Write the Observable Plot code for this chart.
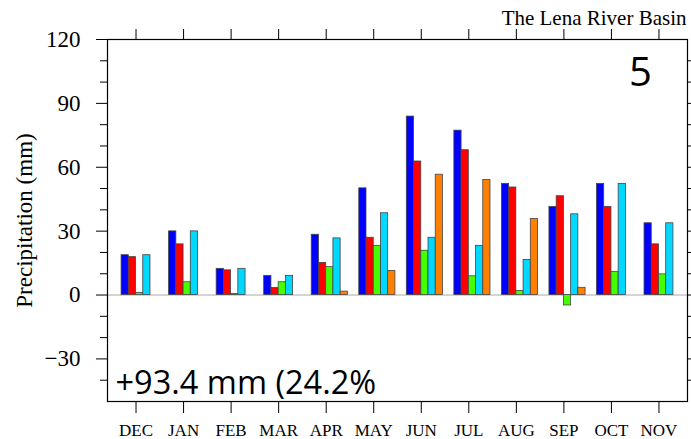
<!DOCTYPE html>
<html>
<head>
<meta charset="utf-8">
<script src="https://cdn.jsdelivr.net/npm/d3@7"></script>
<script src="https://cdn.jsdelivr.net/npm/@observablehq/plot@0.6"></script>
<style>
  html, body { margin: 0; padding: 0; background: #fff; }
</style>
</head>
<body>
<div id="chart"></div>
<script>
const months = ["DEC","JAN","FEB","MAR","APR","MAY","JUN","JUL","AUG","SEP","OCT","NOV"];
const seriesNames = ["s1","s2","s3","s4","s5"];
const seriesColors = ["#0000ff","#ff0000","#44ff00","#00d8ff","#ff8000"];
const blueVals   = [18.7, 29.9, 12.3, 9.0, 28.3, 50.1, 83.8, 77.2, 52.2, 41.4, 52.2, 33.7];
const redVals    = [17.8, 23.8, 11.6, 3.3, 15.1, 26.9, 62.7, 68.0, 50.5, 46.4, 41.4, 23.8];
const greenVals  = [0.9, 6.0, 0.5, 6.0, 13.1, 23.1, 20.8, 8.8, 1.9, -4.9, 10.9, 9.7];
const cyanVals   = [18.7, 29.9, 12.3, 9.0, 26.6, 38.4, 26.9, 23.1, 16.5, 37.9, 52.2, 33.7];
const orangeVals = [null, null, null, null, 1.6, 11.3, 56.5, 54.0, 35.7, 3.4, null, null];
const yMajorTicks = [-30, 0, 30, 60, 90, 120];
const yMinorTicks = [-40, -20, -10, 10, 20, 40, 50, 70, 80, 100, 110];
const yAllTicks = [-40, -30, -20, -10, 0, 10, 20, 30, 40, 50, 60, 70, 80, 90, 100, 110];
const titleText = "The Lena River Basin";
const panelText = "5";
const changeText = "+93.4 mm (24.2%";

const allSeries = [blueVals, redVals, greenVals, cyanVals, orangeVals];
const barW = 0.152;
const rows = [];
allSeries.forEach((vals, k) => {
  vals.forEach((v, i) => {
    if (v === null) return;
    rows.push({month: i, x1: i + (k - 2) * barW, x2: i + (k - 1) * barW, y: v, series: seriesNames[k]});
  });
});

const serif = "'Liberation Serif', 'Times New Roman', serif";
const sans = "'Open Sans', 'Noto Sans', sans-serif";

const chart = Plot.plot({
  width: 691,
  height: 439,
  marginLeft: 107,
  marginRight: 4,
  marginTop: 39,
  marginBottom: 38,
  style: {fontFamily: serif, background: "#fff", color: "#000"},
  x: {domain: [-0.6, 11.6]},
  y: {domain: [-50, 120]},
  color: {domain: seriesNames, range: seriesColors},
  marks: [
    Plot.ruleY([0], {stroke: "#aaa", strokeWidth: 1}),
    Plot.rectY(rows, {x1: "x1", x2: "x2", y1: 0, y2: "y", fill: "series", stroke: "#444", strokeWidth: 0.8}),
    Plot.axisX({anchor: "bottom", ticks: d3.range(12), tickFormat: i => months[i], tickSize: 12, tickPadding: 10, fontSize: 17, label: null}),
    Plot.axisX({anchor: "top", ticks: d3.range(12), tickFormat: () => "", tickSize: 11, label: null}),
    Plot.axisY({anchor: "left", ticks: yMajorTicks, tickSize: 11, tickPadding: 16, fontSize: 23,
      label: "Precipitation (mm)", labelAnchor: "center", labelArrow: "none", labelOffset: 92}),
    Plot.axisY({anchor: "left", ticks: yMinorTicks, tickSize: 7, tickFormat: () => "", label: null}),
    Plot.axisY({anchor: "right", ticks: yAllTicks, tickSize: 5, tickFormat: () => "", label: null}),
    Plot.frame({stroke: "#000", strokeWidth: 1.2}),
    Plot.text([titleText], {frameAnchor: "top-right", textAnchor: "end", lineAnchor: "middle", dx: -1, dy: -21, fontSize: 21, fontFamily: serif, fill: "#000"}),
    Plot.text([panelText], {frameAnchor: "top-right", textAnchor: "middle", lineAnchor: "middle", dx: -47, dy: 34, fontSize: 40, fontFamily: sans, fill: "#000"}),
    Plot.text([changeText], {frameAnchor: "bottom-left", textAnchor: "start", lineAnchor: "middle", dx: 8, dy: -18, fontSize: 32.5, fontFamily: sans, fill: "#000"})
  ]
});
document.getElementById("chart").appendChild(chart);
</script>
</body>
</html>
